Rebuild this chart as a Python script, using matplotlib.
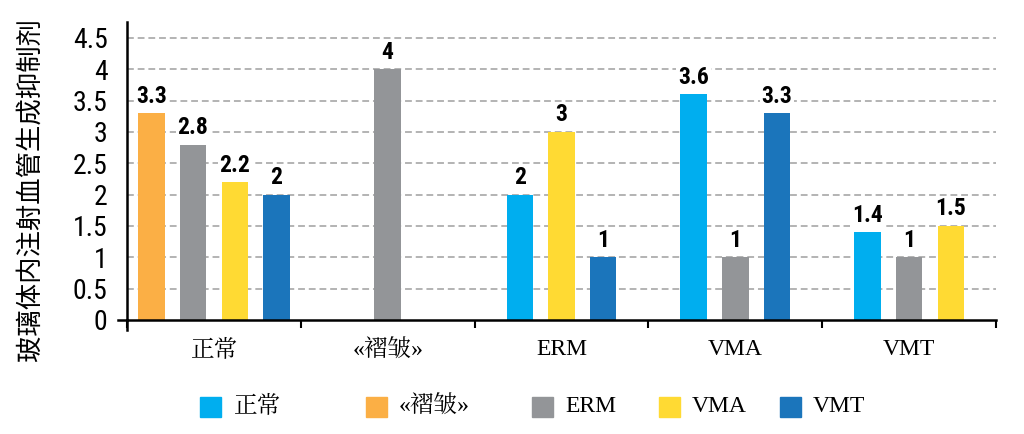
import numpy as np
import matplotlib
matplotlib.use("Agg")
import matplotlib.pyplot as plt
from matplotlib.patches import Rectangle

# Data
groups = ["正常", "«褶皱»", "ERM", "VMA", "VMT"]
series = ["正常", "«褶皱»", "ERM", "VMA", "VMT"]
colors = ["#00AEEF", "#FBAF45", "#939598", "#FFDA33", "#1B75BB"]
nan = np.nan
v_normal = [nan, nan, 2, 3.6, 1.4]
v_wrinkle = [3.3, nan, nan, nan, nan]
v_erm = [2.8, 4, nan, 1, 1]
v_vma = [2.2, nan, 3, nan, 1.5]
v_vmt = [2, nan, 1, 3.3, nan]
values = [v_normal, v_wrinkle, v_erm, v_vma, v_vmt]
yticks = [0, 0.5, 1, 1.5, 2, 2.5, 3, 3.5, 4, 4.5]
ytick_labels = ["0", "0.5", "1", "1.5", "2", "2.5", "3", "3.5", "4", "4.5"]
ylabel = "玻璃体内注射血管生成抑制剂"

cjk = "Noto Sans CJK SC"
narrow = ["Liberation Sans Narrow", "Arimo Narrow", "Roboto Condensed",
          "IBM Plex Sans Condensed", "DejaVu Sans", cjk]
serif = ["Liberation Serif", "Noto Serif CJK SC", "Noto Serif SC", cjk]
plt.rcParams["font.family"] = narrow

fig = plt.figure(figsize=(10.24, 4.34), dpi=100)
ax = fig.add_axes([127 / 1024, 1 - 320 / 434, (996 - 127) / 1024, (320 - 22) / 434])

bar_w = 0.152
step = 0.24
for g in range(len(groups)):
    present = [s for s in range(len(series)) if not np.isnan(values[s][g])]
    n = len(present)
    for k, s in enumerate(present):
        x = g + 0.5 + (k - (n - 1) / 2) * step
        val = values[s][g]
        ax.bar(x, val, width=bar_w, color=colors[s], zorder=3)
        ax.annotate(f"{val:g}", (x, val), xytext=(0, 4), textcoords="offset points",
                    ha="center", va="bottom", fontsize=17, fontweight="bold",
                    family=narrow, zorder=4,
                    bbox=dict(fc="white", ec="none", pad=1.2))

ax.set_xlim(0, len(groups))
ax.set_ylim(0, 4.5 * 298 / 282)

# dashed grid
for y in yticks[1:]:
    ax.axhline(y, color="#B3B3B3", lw=1.4, ls=(0, (3.5, 2)), zorder=1)

ax.set_yticks(yticks)
ax.set_yticklabels(ytick_labels, fontsize=20)
ax.tick_params(axis="y", length=0, pad=14)

ax.set_xticks(np.arange(len(groups) + 1))
ax.set_xticklabels([])
ax.set_xticks(np.arange(len(groups)) + 0.5, minor=True)
ax.set_xticklabels(groups, minor=True, fontsize=17, family=serif)
ax.tick_params(axis="x", which="major", length=6, width=1.5, direction="out")
ax.tick_params(axis="x", which="minor", length=0, pad=14)

for side in ["top", "right"]:
    ax.spines[side].set_visible(False)
ax.spines["left"].set_linewidth(1.8)
ax.spines["bottom"].set_linewidth(1.8)
ax.spines["bottom"].set_zorder(5)
# extended axis ends
ax.plot([-9 / 869, 0], [0, 0], transform=ax.transAxes, color="black", lw=1.8, clip_on=False)
ax.plot([0, 0], [-10 / 298, 0], transform=ax.transAxes, color="black", lw=1.8, clip_on=False)

fig.text(30 / 1024, 1 - 190 / 434, ylabel, rotation=90, ha="center", va="center",
         fontsize=19, family=[cjk])

# legend
sq_left = [200, 366, 532, 659, 780]
for s, name in enumerate(series):
    fig.patches.append(Rectangle((sq_left[s] / 1024, 1 - 417 / 434), 21 / 1024, 20 / 434,
                                 transform=fig.transFigure, color=colors[s]))
    fig.text((sq_left[s] + 33) / 1024, 1 - 407 / 434, name, ha="left", va="center",
             fontsize=17, family=serif)

fig.savefig("out.png", dpi=100)
